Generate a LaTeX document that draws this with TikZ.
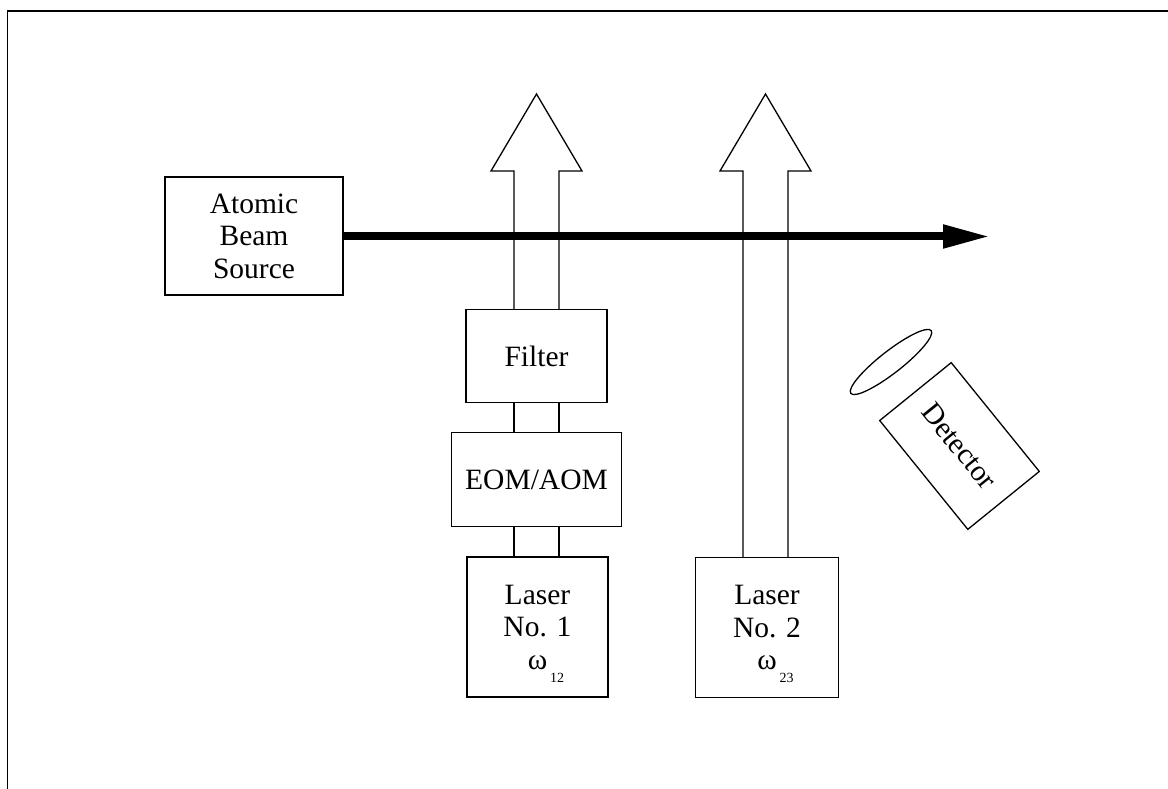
\documentclass[tikz,border=0pt]{standalone}
\usepackage{fontspec}
\setmainfont{Liberation Serif}
\usetikzlibrary{arrows.meta,calc}

\begin{document}
\begin{tikzpicture}[x=1pt, y=1pt, line width=1.3pt,
        box/.style={draw, align=center, inner sep=0pt, font=\fontsize{29.5}{32.5}\selectfont}]
        \useasboundingbox (0,0) rectangle (1168,789);

        % Frame
        \draw (7.5,0) -- (7.5,778) -- (1168,778);

        % Source and optics
        \node[box, minimum width=178pt, minimum height=118pt] (src) at (254,553) {Atomic\\Beam\\Source};
        \node[box, minimum width=141pt, minimum height=93pt] (filt) at (536.5,433) {Filter};
        \node[box, minimum width=170pt, minimum height=94pt] (eom) at (536.5,309.5) {EOM/AOM};
        \node[box, minimum width=141pt, minimum height=140pt] (las1) at (537.5,162)
            {Laser\\No. 1\\ω\rlap{\hspace{3pt}\raisebox{-13pt}[0pt][0pt]{\fontsize{14}{14}\selectfont 12}}};
        \node[box, minimum width=143pt, minimum height=140pt] (las2) at (767,161.5)
            {Laser\\No. 2\\ω\rlap{\hspace{3pt}\raisebox{-13pt}[0pt][0pt]{\fontsize{14}{14}\selectfont 23}}};

        % Detector
        \node[box, minimum width=140pt, minimum height=92pt, rotate=-51] (det) at (959.5,343) {Detector};
        \draw[rotate around={38:(891,427)}] (891,427) ellipse (51 and 11);

        % Laser beams
        \coordinate (tip1) at (536.5,695);
        \coordinate (tip2) at (765.5,695);
        \foreach \dx in {-22.5,22.5} {
            \draw ($(las1.north)+(\dx-1,0)$) -- ($(eom.south)+(\dx,0)$);
            \draw ($(eom.north)+(\dx,0)$) -- ($(filt.south)+(\dx,0)$);
        }
        \draw[line join=miter] ($(filt.north)+(-22.5,0)$) -- ($(tip1)+(-22.5,-77)$) -- ($(tip1)+(-45.5,-77)$)
            -- (tip1) -- ($(tip1)+(45.5,-77)$) -- ($(tip1)+(22.5,-77)$) -- ($(filt.north)+(22.5,0)$);
        \draw[line join=miter] ($(las2.north)+(-24,0)$) -- ($(tip2)+(-22.5,-77)$) -- ($(tip2)+(-45.5,-77)$)
            -- (tip2) -- ($(tip2)+(45.5,-77)$) -- ($(tip2)+(22.5,-77)$) -- ($(las2.north)+(21,0)$);

        % Atomic beam
        \coordinate (bend) at (990,552.5);
        \draw[line width=8pt, -{Triangle[length=47pt,width=22pt]}] (src.east |- bend) -- (bend);
    \end{tikzpicture}
\end{document}
